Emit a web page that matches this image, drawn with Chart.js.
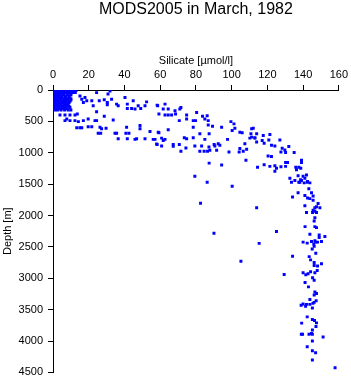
<!DOCTYPE html>
<html>
<head>
<meta charset="utf-8">
<script src="https://cdn.jsdelivr.net/npm/chart.js@4"></script>
<style>
  html, body { margin: 0; padding: 0; background: #fff; }
  #box { width: 351px; height: 384px; }
</style>
</head>
<body>
<div id="box"><canvas id="silicateChart"></canvas></div>
<script>
    // silicate [umol/l] and depth [m] (same order in both lists)
    var silicate = [
        1, 3, 5, 7, 9, 11, 13,
        2, 4, 6, 8, 10, 12,
        1, 3, 5, 7, 9, 11, 12.5,
        2, 4, 6, 8, 10,
        1, 2.5, 4, 6, 8, 10,
        2, 3.5, 5, 7, 9,
        1, 3, 5, 7, 9,
        2, 4, 6, 8, 10,
        1, 2.5, 4.5, 6.5, 8.5, 10,
        2, 3.5, 5.5, 7.5, 9.5,
        1, 3, 5, 7, 9,
        2, 4, 6, 8,
        1, 2.5, 4.5, 6.5, 8.5,
        2, 3.5, 5.5, 7.5, 9,
        1, 3, 5, 7, 9.5,
        2, 4, 6, 8,
        1, 2.5, 4.5, 6.5, 8.5, 10,
        24.4, 31.9, 30.8, 32.8, 25.9, 28.7, 21.7, 22.5, 17.9, 18.9,
        16.1, 17.0, 15.1, 30.4, 30.4, 35.6, 36.5, 40.3, 44.9, 41.6,
        41.6, 44.0, 45.9, 47.7, 49.1, 52.4, 51.5, 58.3, 24.4, 28.7,
        33.7, 3.9, 6.7, 9.5, 12.3, 13.6, 7.7, 6.7, 9.5, 12.3,
        14.2, 17.0, 19.7, 24.4, 23.5, 13.3, 15.1, 16.1, 19.7, 21.7,
        26.3, 27.2, 29.7, 25.3, 26.7, 34.7, 35.6, 41.2, 40.8, 42.5,
        48.7, 48.7, 54.3, 58.9, 36.5, 41.6, 45.9, 46.8, 51.5, 56.1,
        58.0,
        62.7, 58.6, 61.7, 64.5, 59.3, 62.7, 64.5, 66.4, 68.6, 68.3,
        71.0, 71.6, 74.8, 74.8, 70.7, 78.5, 79.8, 80.4, 83.7, 85.0,
        86.3, 86.9, 86.9, 89.3, 78.5, 94.4, 99.6, 101.3, 101.8, 100.3,
        104.6, 105.9, 111.2, 112.1, 110.8, 114.0, 113.0, 111.2, 117.7, 64.5,
        59.3, 57.1, 60.8, 61.7, 62.7, 73.5, 74.8, 78.5, 82.2, 85.0,
        87.4, 97.7, 58.3, 60.8, 67.3, 67.3, 70.7, 74.4, 79.4, 83.2,
        87.3, 90.2, 90.6, 93.4, 92.5, 82.2, 84.6, 86.5, 87.8, 91.6,
        98.5, 104.6, 104.2, 106.5, 108.4, 107.4, 110.2, 113.0, 114.0, 117.1,
        71.6, 87.4, 94.4, 79.4, 108.0,
        121.4, 120.8, 118.2, 127.0, 122.3, 124.2, 128.3, 129.8, 130.2, 127.6,
        132.0, 135.0, 122.3, 120.4, 114.5, 118.2, 121.4, 124.2, 127.6, 125.1,
        130.2, 131.3, 130.2, 124.2, 139.1, 139.1, 135.9, 137.6, 138.7, 136.3,
        137.2, 140.0, 141.9, 141.0, 139.1, 137.6, 135.4, 133.5, 132.6, 142.5,
        143.8, 140.6, 143.2, 137.2, 134.1, 141.0, 142.5, 144.7, 145.6, 143.8,
        145.6, 148.4, 147.5, 149.4, 146.6, 141.0, 114.0,
        86.3, 100.3, 82.6, 90.1, 125.1, 115.4, 105.2, 129.4, 134.1, 138.6,
        138.2, 142.3, 141.9, 145.3, 147.5, 146.6, 145.6, 146.6, 146.2, 141.1,
        146.6, 147.5, 143.8, 149.0, 149.0, 152.2, 150.3, 140.0, 142.3, 144.7,
        146.6, 147.1, 148.1, 146.0, 146.2, 145.1, 147.1, 143.4, 144.2, 146.2,
        146.2, 148.1, 150.3,
        140.0, 141.5, 142.8, 144.2, 146.6, 147.9, 145.3, 146.2, 141.1, 143.0,
        146.6, 147.5, 146.2, 143.8, 147.3, 146.2, 145.5, 143.8, 141.9, 140.0,
        138.9, 141.4, 145.2, 142.3, 145.2, 146.4, 147.5, 139.2, 147.2, 145.2,
        144.7, 143.3, 139.0, 139.7, 145.2, 151.2, 145.2, 142.3, 145.2, 147.0,
        145.2, 157.9
    ];
    var depth = [
        5, 5, 5, 5, 5, 5, 5,
        22, 22, 22, 22, 22, 22,
        40, 40, 40, 40, 40, 40, 40,
        60, 60, 60, 60, 60,
        80, 80, 80, 80, 80, 80,
        100, 100, 100, 100, 100,
        120, 120, 120, 120, 120,
        140, 140, 140, 140, 140,
        160, 160, 160, 160, 160, 160,
        180, 180, 180, 180, 180,
        200, 200, 200, 200, 200,
        220, 220, 220, 220,
        240, 240, 240, 240, 240,
        260, 260, 260, 260, 260,
        280, 280, 280, 280, 280,
        300, 300, 300, 300,
        320, 320, 320, 320, 320, 320,
        42, 16, 63, 146, 173, 157, 173, 252, 121, 173,
        146, 200, 94, 200, 236, 225, 252, 121, 173, 225,
        294, 294, 304, 252, 294, 189, 252, 241, 346, 420,
        477, 398, 398, 398, 398, 383, 461, 488, 488, 488,
        504, 488, 461, 488, 488, 603, 603, 603, 587, 587,
        593, 619, 609, 688, 688, 688, 688, 593, 688, 688,
        619, 567, 661, 672, 776, 776, 787, 776, 776, 787,
        861,
        225, 252, 304, 304, 382, 398, 398, 398, 382, 331,
        304, 279, 398, 461, 488, 488, 488, 357, 420, 461,
        409, 488, 556, 578, 593, 593, 504, 540, 609, 645,
        672, 682, 619, 609, 697, 697, 760, 751, 724, 634,
        682, 787, 767, 803, 787, 760, 776, 760, 697, 787,
        697, 787, 870, 892, 870, 897, 870, 924, 892, 892,
        908, 870, 892, 881, 855, 976, 976, 976, 960, 960,
        987, 933, 987, 976, 944, 855, 767, 767, 829, 803,
        976, 1165, 1196, 1374, 1118,
        708, 798, 850, 798, 881, 892, 929, 955, 996, 987,
        902, 996, 1059, 1050, 1232, 1192, 1217, 1207, 1223, 1248,
        1154, 1154, 1217, 1295, 1118, 1154, 1232, 1232, 1248, 1270,
        1365, 1374, 1354, 1406, 1443, 1469, 1443, 1469, 1406, 1459,
        1480, 1480, 1574, 1637, 1705, 1680, 1720, 1637, 1689, 1731,
        1758, 1810, 1862, 1878, 1878, 1846, 1878,
        1469, 1532, 1805, 2282, 2256, 2444, 2728, 2939, 2649, 1428,
        1469, 1469, 1952, 1952, 1952, 1931, 1915, 2035, 2089, 2177,
        2177, 2193, 2298, 2309, 2350, 2334, 2413, 2424, 2440, 2413,
        2403, 2424, 2424, 2455, 2492, 2534, 2602, 2655, 2707, 2750,
        2797, 2806, 2770,
        2912, 2943, 2928, 2896, 2912, 2876, 2991, 3033, 3069, 3137,
        3219, 3243, 3266, 3337, 3357, 3384, 3400, 3416, 3416, 3411,
        3431, 3447, 3474, 3615, 3656, 3672, 3711, 3715, 3767, 3825,
        3880, 3893, 3893, 3893, 3893, 3935, 3998, 4092, 4155, 4187,
        4302, 4427
    ];
    var xTicks = [0, 20, 40, 60, 80, 100, 120, 140, 160];
    var yTicks = [0, 500, 1000, 1500, 2000, 2500, 3000, 3500, 4000, 4500];

    if (silicate.length !== depth.length) {
        console.warn('silicate/depth length mismatch', silicate.length, depth.length);
    }

    var points = silicate.map(function (s, i) { return { x: s, y: depth[i] }; });
    var font11 = { family: 'Liberation Sans', size: 11, weight: 'normal' };
    var plain = function (v) { return String(v); }; // no thousands separator

    var ctx = document.getElementById('silicateChart').getContext('2d');
    var myChart = new Chart(ctx, {
        type: 'scatter',
        data: {
            datasets: [{
                data: points,
                pointStyle: 'rect',
                pointRadius: 2.1,
                borderWidth: 0,
                backgroundColor: '#0000ff',
            }],
        },
        options: {
            responsive: true,
            maintainAspectRatio: false,
            animation: false,
            layout: { padding: { left: 0, right: 12, top: 0, bottom: 8 } },
            plugins: {
                legend: { display: false },
                tooltip: { enabled: false },
                title: {
                    display: true,
                    text: 'MODS2005 in March, 1982',
                    fullSize: false,
                    color: '#000',
                    font: { family: 'Liberation Sans', size: 16, weight: 'normal', lineHeight: 1.2 },
                    padding: { top: 0, bottom: 0 },
                },
            },
            scales: {
                x: {
                    type: 'linear',
                    position: 'top',
                    min: 0,
                    max: 160,
                    afterBuildTicks: function (s) { s.ticks = xTicks.map(function (v) { return { value: v }; }); },
                    afterFit: function (s) { s.height = 70.8; },
                    grid: { drawOnChartArea: false, tickLength: 5, color: '#000' },
                    border: { color: '#000', width: 1 },
                    ticks: { color: '#000', font: font11, padding: 3, maxRotation: 0, callback: plain },
                    title: { display: true, text: 'Silicate [µmol/l]', color: '#000', font: font11, padding: { top: 35, bottom: 0 } },
                },
                y: {
                    type: 'linear',
                    reverse: true,
                    min: 0,
                    max: 4500,
                    afterBuildTicks: function (s) { s.ticks = yTicks.map(function (v) { return { value: v }; }); },
                    afterFit: function (s) { s.width = 53; },
                    grid: { drawOnChartArea: false, tickLength: 5, color: '#000' },
                    border: { color: '#000', width: 1 },
                    ticks: { color: '#000', font: font11, padding: 5, callback: plain },
                    title: { display: true, text: 'Depth [m]', color: '#000', font: font11, padding: { top: 1, bottom: 0 } },
                },
            },
        },
    });
</script>
</body>
</html>
